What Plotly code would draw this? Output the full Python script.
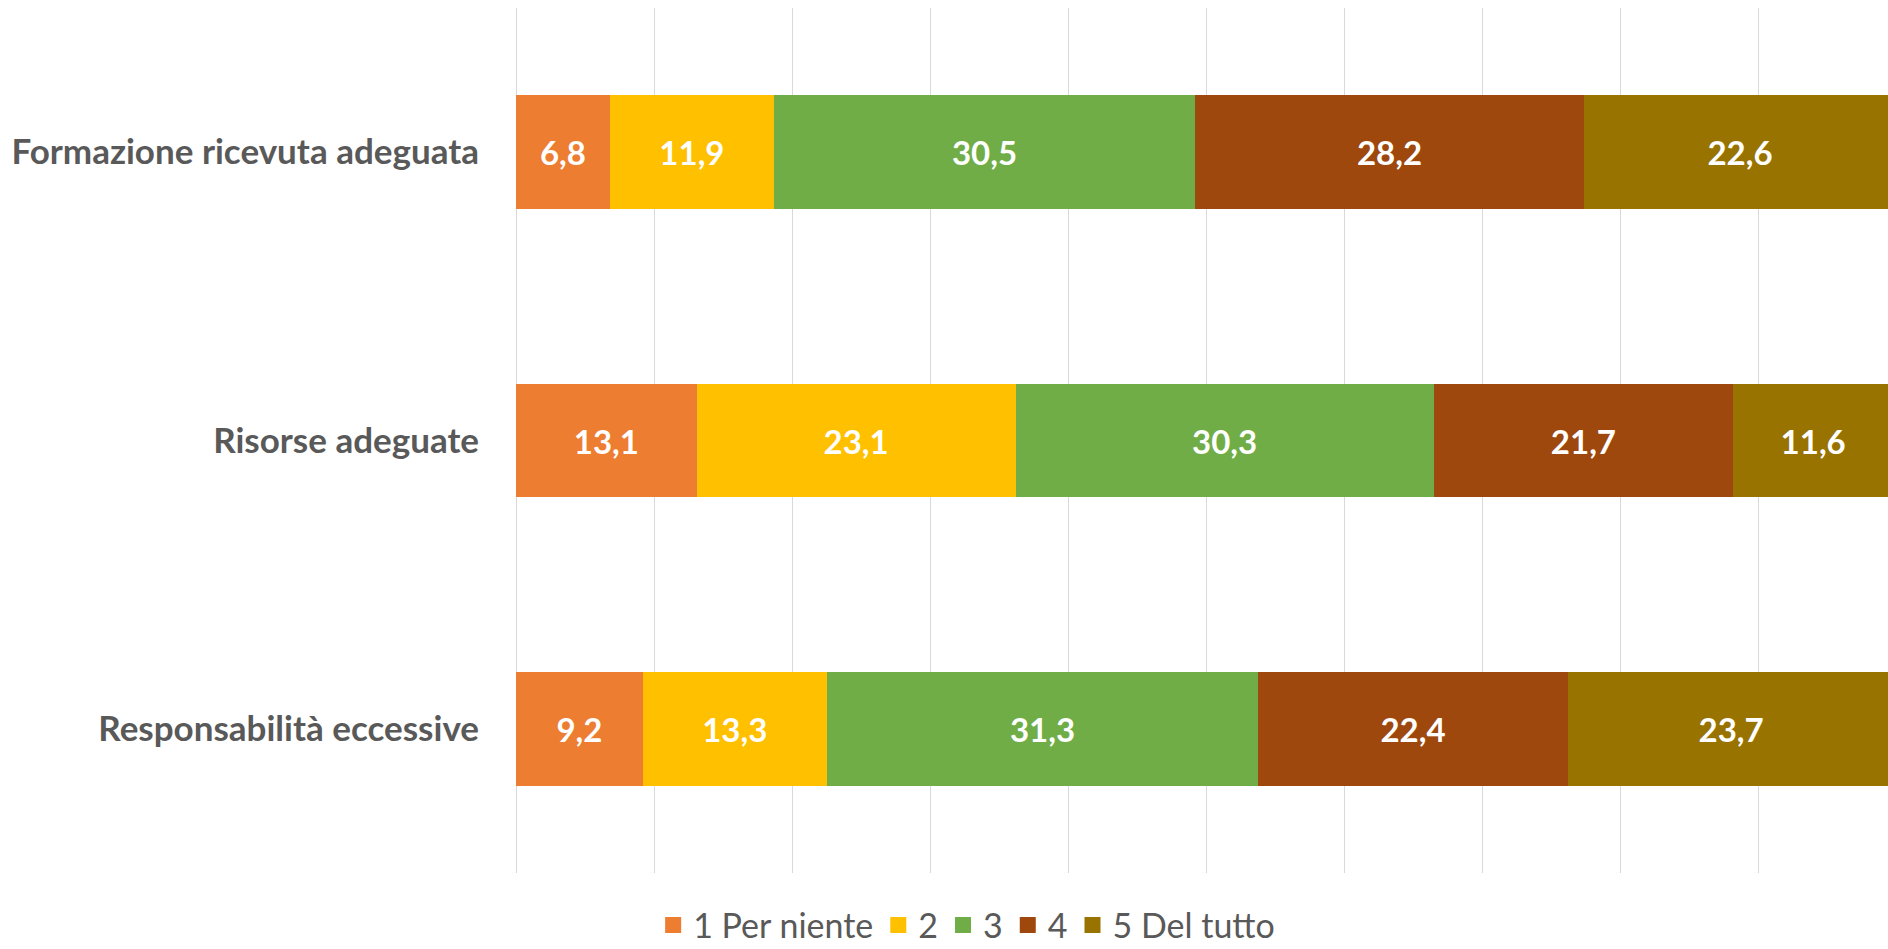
import plotly.graph_objects as go

categories = ["Formazione ricevuta adeguata", "Risorse adeguate", "Responsabilità eccessive"]
series_names = ["1 Per niente", "2", "3", "4", "5 Del tutto"]
values = {
    "1 Per niente": [6.8, 13.1, 9.2],
    "2": [11.9, 23.1, 13.3],
    "3": [30.5, 30.3, 31.3],
    "4": [28.2, 21.7, 22.4],
    "5 Del tutto": [22.6, 11.6, 23.7],
}
colors = ["#ED7D31", "#FFC000", "#70AD47", "#9E480E", "#997300"]

FONT = "Lato, 'Open Sans', sans-serif"

fig = go.Figure()
for name, col in zip(series_names, colors):
    vals = values[name]
    fig.add_trace(go.Bar(
        y=categories, x=vals, name=name, orientation="h",
        marker=dict(color=col, line=dict(width=0)),
        text=[f"{v:.1f}".replace(".", ",") for v in vals],
        textposition="inside", insidetextanchor="middle",
        textfont=dict(family=FONT, size=33, color="white", weight="bold"),
        constraintext="none", showlegend=False, legendgroup=name,
    ))
# legend entries with larger square swatches
for name, col in zip(series_names, colors):
    fig.add_trace(go.Scatter(
        x=[None], y=[None], mode="markers", name=name, legendgroup=name,
        marker=dict(symbol="square", size=19, color=col), showlegend=True,
    ))

fig.update_layout(
    barmode="stack", bargap=0.605,
    width=1888, height=949,
    margin=dict(l=516, r=0, t=8, b=76, autoexpand=False),
    plot_bgcolor="white", paper_bgcolor="white",
    font=dict(family=FONT, color="#595959"),
    legend=dict(
        orientation="h", xref="container", yref="container",
        x=0.512, y=0.025, xanchor="center", yanchor="middle",
        font=dict(family=FONT, size=34, color="#595959"),
        itemwidth=30, itemsizing="trace", traceorder="normal", tracegroupgap=0,
    ),
    showlegend=True,
)
fig.update_xaxes(
    range=[0, 99.42], showgrid=True, gridcolor="#D9D9D9", gridwidth=1.3,
    dtick=10, showticklabels=False, zeroline=True, zerolinecolor="#D9D9D9",
    zerolinewidth=1.3, showline=False, fixedrange=True, automargin=False,
)
fig.update_yaxes(
    categoryorder="array", categoryarray=categories,
    range=[2.5, -0.5], showgrid=False, ticks="", ticklabelstandoff=36,
    tickfont=dict(family=FONT, size=35, color="#595959", weight="bold"),
    showline=False, zeroline=False, automargin=False,
)

fig.write_html(
    "out.html",
    config={"displayModeBar": False},
    post_script="document.body.style.margin='0';"
                "document.documentElement.style.overflow='hidden';",
)
